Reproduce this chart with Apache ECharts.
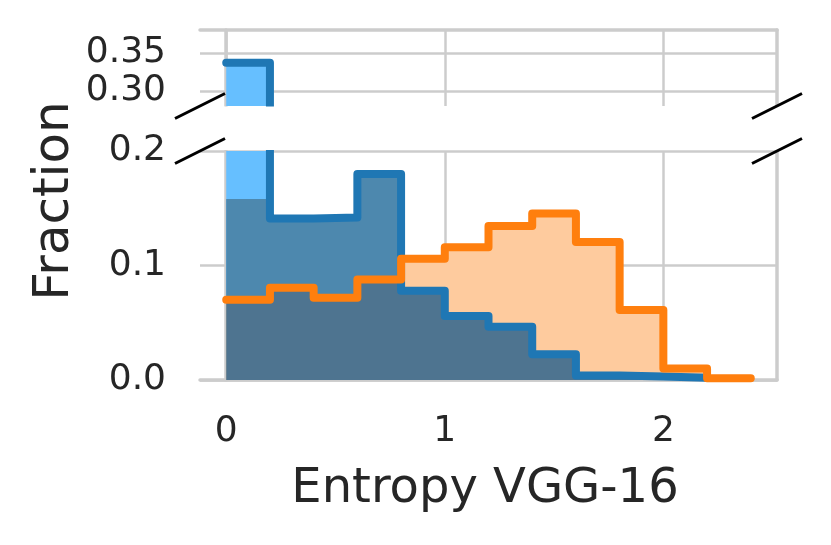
<!DOCTYPE html>
<html>
<head>
<meta charset="utf-8">
<script src="https://cdn.jsdelivr.net/npm/echarts@6/dist/echarts.min.js"></script>
<style>
  html, body { margin: 0; padding: 0; background: #fff; }
  #chart { width: 831px; height: 545px; }
</style>
</head>
<body>
<div id="chart"></div>
<script>
// ==================== 数据 ====================

// 直方图分箱边界
const binEdges = [0, 0.2, 0.4, 0.6, 0.8, 1.0, 1.2, 1.4, 1.6, 1.8, 2.0, 2.2, 2.4];
// 蓝色阶梯线（每个分箱的高度）
const blueValues = [0.337, 0.141, 0.142, 0.180, 0.078, 0.056, 0.0465, 0.0225, 0.004, 0.003, 0.002];
// 蓝色深色填充（第一个分箱较低）
const blueFillValues = [0.158, 0.141, 0.142, 0.180, 0.078, 0.056, 0.0465, 0.0225, 0.004, 0.003, 0.002];
// 橙色阶梯线
const orangeValues = [0.070, 0.0806, 0.0718, 0.0877, 0.106, 0.116, 0.1346, 0.1455, 0.1205, 0.0612, 0.0101, 0.0015];
// 刻度
const xTicks = [0, 1, 2];
const yTicksTop = [0.30, 0.35];
const yTicksBottom = [0, 0.1, 0.2];

// ==================== 样式 ====================

const GRID_COLOR = '#cccccc';
const TEXT_COLOR = '#262626';
const FONT = 'DejaVu Sans';
const TICK_SIZE = 36;
const LEFT = 200, RIGHT_X = 777;
const TOP_Y = 30, BREAK_TOP = 106, BREAK_BOTTOM = 151, BOTTOM_Y = 380;

// 阶梯数据：[边界, 高度]，末尾补一个点
function stepData(values) {
  const d = values.map((v, i) => [binEdges[i], v]);
  d.push([binEdges[values.length], values[values.length - 1]]);
  return d;
}

// 两条填充重叠部分取较小值
const overlapValues = blueFillValues.map((v, i) => Math.min(v, orangeValues[i]));

function xAxisFor(gridIndex, position, showLabels) {
  return {
    type: 'value', gridIndex, position, min: -0.12, max: 2.52,
    axisLine: { show: true, lineStyle: { color: GRID_COLOR, width: 3.5 } },
    axisTick: { show: false, customValues: xTicks },
    axisLabel: {
      show: showLabels, customValues: xTicks, margin: 34,
      color: TEXT_COLOR, fontFamily: FONT, fontSize: TICK_SIZE,
      formatter: v => String(Math.round(v))
    },
    splitLine: { show: true, lineStyle: { color: GRID_COLOR, width: 2.5 } }
  };
}

function yAxisFor(gridIndex, min, max, ticks, digits) {
  return {
    type: 'value', gridIndex, position: 'left', min, max,
    axisLine: { show: true, lineStyle: { color: GRID_COLOR, width: 3.5 } },
    axisTick: { show: false, customValues: ticks },
    axisLabel: {
      customValues: ticks, margin: 34, padding: [6, 0, 0, 0],
      color: TEXT_COLOR, fontFamily: FONT, fontSize: TICK_SIZE,
      formatter: v => v.toFixed(digits)
    },
    splitLine: { show: true, lineStyle: { color: GRID_COLOR, width: 2.5 } }
  };
}

function rightSpine(gridIndex, min, max) {
  return {
    type: 'value', gridIndex, position: 'right', min, max,
    axisLine: { show: true, lineStyle: { color: GRID_COLOR, width: 3.5 } },
    axisTick: { show: false }, axisLabel: { show: false }, splitLine: { show: false }
  };
}

function area(name, values, color, xi, yi) {
  return {
    name, type: 'line', step: 'end', data: stepData(values),
    xAxisIndex: xi, yAxisIndex: yi, symbol: 'none', silent: true,
    lineStyle: { width: 0 }, areaStyle: { color, opacity: 1 }
  };
}

function stepLine(name, values, color, xi, yi) {
  return {
    name, type: 'line', step: 'end', data: stepData(values),
    xAxisIndex: xi, yAxisIndex: yi, symbol: 'none', silent: true,
    lineStyle: { color, width: 8, cap: 'round', join: 'round' }
  };
}

// 断轴斜线
function breakMark(cx, cy) {
  return {
    type: 'line', z: 101,
    shape: { x1: cx - 25, y1: cy + 12.5, x2: cx + 25, y2: cy - 12.5 },
    style: { stroke: '#000', lineWidth: 3 }
  };
}

const chart = echarts.init(document.getElementById('chart'), null, { renderer: 'canvas' });

chart.setOption({
  animation: false,
  backgroundColor: '#fff',
  grid: [
    { left: LEFT, right: 831 - RIGHT_X, top: TOP_Y, height: BREAK_TOP - TOP_Y },
    { left: LEFT, right: 831 - RIGHT_X, top: BREAK_BOTTOM, height: BOTTOM_Y - BREAK_BOTTOM }
  ],
  xAxis: [
    xAxisFor(0, 'top', false),
    xAxisFor(1, 'bottom', true)
  ],
  yAxis: [
    yAxisFor(0, 0.28, 0.38, yTicksTop, 2),
    yAxisFor(1, 0, 0.2, yTicksBottom, 1),
    rightSpine(0, 0.28, 0.38),
    rightSpine(1, 0, 0.2)
  ],
  series: [
    // 上半部分
    area('blueLight', blueValues, '#66bfff', 0, 0),
    stepLine('blue', blueValues, '#1f77b4', 0, 0),
    // 下半部分
    area('blueLightB', blueValues, '#66bfff', 1, 1),
    area('blueFill', blueFillValues, '#4d88ae', 1, 1),
    area('orangeFill', orangeValues, '#fecb9e', 1, 1),
    area('overlap', overlapValues, '#4e7490', 1, 1),
    stepLine('blueB', blueValues, '#1f77b4', 1, 1),
    stepLine('orange', orangeValues, '#ff7f0e', 1, 1)
  ],
  graphic: [
    // 断轴间隙遮挡
    {
      type: 'rect', z: 100,
      shape: { x: LEFT - 6, y: BREAK_TOP + 0.5, width: RIGHT_X - LEFT + 12, height: BREAK_BOTTOM - BREAK_TOP - 1.5 },
      style: { fill: '#fff' }
    },
    breakMark(LEFT, BREAK_TOP),
    breakMark(LEFT, BREAK_BOTTOM),
    breakMark(RIGHT_X, BREAK_TOP),
    breakMark(RIGHT_X, BREAK_BOTTOM),
    {
      type: 'text', z: 100, x: 55, y: 201, rotation: Math.PI / 2,
      style: { text: 'Fraction', fill: TEXT_COLOR, font: '50px "DejaVu Sans"', align: 'center', verticalAlign: 'middle' }
    },
    {
      type: 'text', z: 100, x: 485, y: 490,
      style: { text: 'Entropy VGG-16', fill: TEXT_COLOR, font: '48px "DejaVu Sans"', align: 'center', verticalAlign: 'middle' }
    }
  ]
});
</script>
</body>
</html>
